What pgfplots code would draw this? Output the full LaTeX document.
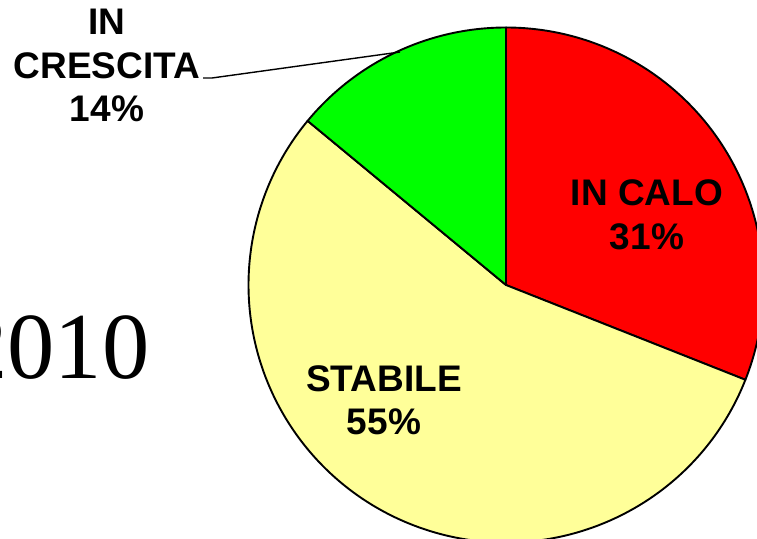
\documentclass[border=0pt]{standalone}
\usepackage{pgfplots}
\pgfplotsset{compat=1.18}
\usepackage{fontspec}
\setmainfont{Liberation Sans}
\newfontfamily\yearfont{Liberation Serif}

\definecolor{calo}{HTML}{FF0000}
\definecolor{stabile}{HTML}{FFFF99}
\definecolor{crescita}{HTML}{00FF00}

% shares in percent
\def\vcalo{31}
\def\vstabile{55}
\def\vcrescita{14}

\begin{document}
\begin{tikzpicture}
\pgfmathsetmacro\aA{90}
\pgfmathsetmacro\aB{\aA-3.6*\vcalo}
\pgfmathsetmacro\aC{\aB-3.6*\vstabile}
\pgfmathsetmacro\aD{\aC-3.6*\vcrescita}
\def\R{257.5bp}
\begin{axis}[name=ax,
  width=757bp, height=539bp, scale only axis,
  xmin=0, xmax=757, ymin=0, ymax=539,
  hide axis, clip=true,
]
\filldraw[fill=calo, line width=1.9bp, line join=round]
  (axis cs:506,254) -- ++(\aA:\R) arc[start angle=\aA, end angle=\aB, radius=\R] -- cycle;
\filldraw[fill=stabile, line width=1.9bp, line join=round]
  (axis cs:506,254) -- ++(\aB:\R) arc[start angle=\aB, end angle=\aC, radius=\R] -- cycle;
\filldraw[fill=crescita, line width=1.9bp, line join=round]
  (axis cs:506,254) -- ++(\aC:\R) arc[start angle=\aC, end angle=\aD, radius=\R] -- cycle;

\draw[line width=1.4bp] (axis cs:203,461) -- (axis cs:212,461) -- (axis cs:400,487);

\begin{scope}[every node/.style={font=\fontsize{37bp}{44bp}\selectfont\bfseries, inner sep=0pt, anchor=base}]
\node at (axis cs:647,333) {IN CALO};
\node at (axis cs:647,289) {\vcalo\%};
\node at (axis cs:384,147) {STABILE};
\node at (axis cs:384,104) {\vstabile\%};
\node at (axis cs:107,504) {IN};
\node at (axis cs:107,460) {CRESCITA};
\node at (axis cs:107,417) {\vcrescita\%};
\end{scope}

\node[anchor=base east, inner sep=0pt, font=\yearfont\fontsize{94.5bp}{95bp}\selectfont] at (axis cs:149.5,160) {2010};
\end{axis}
\pgfresetboundingbox
\path[use as bounding box] (ax.south west) rectangle (ax.north east);
\end{tikzpicture}
\end{document}
